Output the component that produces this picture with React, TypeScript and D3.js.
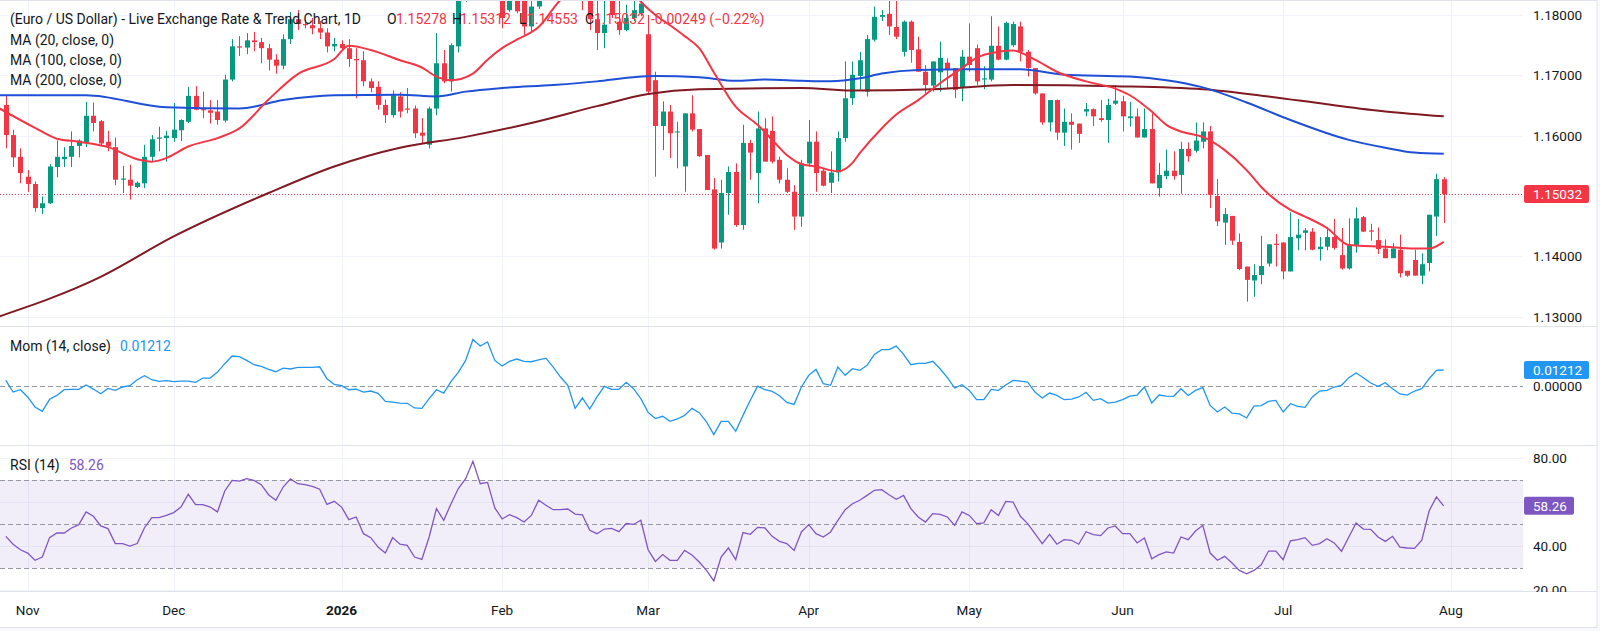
import React from 'react';
import * as d3 from 'd3';

// EUR/USD daily candles.
// first candle Wed 29 Oct 2025, last candle Fri 31 Jul 2026 (weekdays only)
const openP = [
  1.1651, 1.1601, 1.1565, 1.1532, 1.1520, 1.1480, 1.1488, 1.1548, 1.1561, 1.1565,
  1.1583, 1.1588, 1.1633, 1.1624, 1.1590, 1.1581, 1.1527, 1.1527, 1.1515, 1.1521,
  1.1565, 1.1595, 1.1596, 1.1596, 1.1609, 1.1623, 1.1666, 1.1644, 1.1642, 1.1640,
  1.1625, 1.1693, 1.1748, 1.1746, 1.1758, 1.1755, 1.1745, 1.1726, 1.1716, 1.1760,
  1.1793, 1.1785, 1.1783, 1.1778, 1.1771, 1.1748, 1.1752, 1.1745, 1.1727, 1.1725,
  1.1690, 1.1681, 1.1651, 1.1634, 1.1665, 1.1645, 1.1645, 1.1605, 1.1585, 1.1645,
  1.1720, 1.1690, 1.1748, 1.1830, 1.1882, 1.2036, 1.1957, 1.1971, 1.1862, 1.1808,
  1.1835, 1.1830, 1.1781, 1.1814, 1.1865, 1.1903, 1.1894, 1.1897, 1.1885, 1.1861,
  1.1850, 1.1793, 1.1770, 1.1830, 1.1789, 1.1775, 1.1795, 1.1803, 1.1768, 1.1692,
  1.1616, 1.1640, 1.1606, 1.1549, 1.1637, 1.1611, 1.1568, 1.1511, 1.1423, 1.1505,
  1.1540, 1.1452, 1.1588, 1.1538, 1.1612, 1.1608, 1.1560, 1.1527, 1.1507, 1.1466,
  1.1554, 1.1590, 1.1542, 1.1522, 1.1539, 1.1596, 1.1662, 1.1699, 1.1673, 1.1759,
  1.1797, 1.1802, 1.1780, 1.1739, 1.1789, 1.1743, 1.1706, 1.1683, 1.1705, 1.1721,
  1.1712, 1.1679, 1.1731, 1.1745, 1.1693, 1.1693, 1.1749, 1.1726, 1.1750, 1.1781,
  1.1739, 1.1712, 1.1670, 1.1622, 1.1659, 1.1605, 1.1623, 1.1620, 1.1640, 1.1644,
  1.1629, 1.1626, 1.1653, 1.1657, 1.1629, 1.1632, 1.1597, 1.1611, 1.1513, 1.1533,
  1.1542, 1.1535, 1.1578, 1.1575, 1.1590, 1.1607, 1.1500, 1.1456, 1.1467, 1.1424,
  1.1383, 1.1360, 1.1369, 1.1388, 1.1421, 1.1423, 1.1375, 1.1430, 1.1439, 1.1441,
  1.1412, 1.1416, 1.1432, 1.1402, 1.1380, 1.1419, 1.1465, 1.1443, 1.1427, 1.1413,
  1.1397, 1.1411, 1.1376, 1.1394, 1.1368, 1.1389, 1.1466, 1.15278,
];
const highP = [
  1.1668, 1.1610, 1.1579, 1.1543, 1.1524, 1.1499, 1.1553, 1.1592, 1.1581, 1.1607,
  1.1594, 1.1656, 1.1655, 1.1626, 1.1608, 1.1597, 1.1550, 1.1552, 1.1524, 1.1585,
  1.1601, 1.1615, 1.1608, 1.1654, 1.1627, 1.1681, 1.1682, 1.1673, 1.1659, 1.1659,
  1.1701, 1.1760, 1.1765, 1.1770, 1.1772, 1.1762, 1.1752, 1.1735, 1.1768, 1.1805,
  1.1808, 1.1792, 1.1795, 1.1790, 1.1778, 1.1762, 1.1758, 1.1760, 1.1745, 1.1740,
  1.1695, 1.1690, 1.1660, 1.1675, 1.1672, 1.1679, 1.1650, 1.1629, 1.1648, 1.1770,
  1.1742, 1.1753, 1.1850, 1.1895, 1.2080, 1.2045, 1.1990, 1.1975, 1.1870, 1.1845,
  1.1850, 1.1845, 1.1830, 1.1880, 1.1915, 1.1925, 1.1920, 1.1912, 1.1898, 1.1880,
  1.1858, 1.1825, 1.1825, 1.1845, 1.1825, 1.1817, 1.1825, 1.1830, 1.1800, 1.1706,
  1.1657, 1.1651, 1.1623, 1.1637, 1.1667, 1.1611, 1.1568, 1.1530, 1.1527, 1.1549,
  1.1554, 1.1618, 1.1593, 1.1640, 1.1629, 1.1632, 1.1565, 1.1546, 1.1518, 1.1560,
  1.1626, 1.1607, 1.1545, 1.1574, 1.1607, 1.1723, 1.1723, 1.1739, 1.1767, 1.1814,
  1.1808, 1.1825, 1.1825, 1.1791, 1.1791, 1.1764, 1.1717, 1.1723, 1.1756, 1.1728,
  1.1712, 1.1742, 1.1786, 1.1751, 1.1715, 1.1798, 1.1781, 1.1789, 1.1789, 1.1789,
  1.1742, 1.1712, 1.1670, 1.1659, 1.1660, 1.1645, 1.1637, 1.1620, 1.1654, 1.1645,
  1.1659, 1.1661, 1.1684, 1.1666, 1.1656, 1.1645, 1.1645, 1.1637, 1.1555, 1.1577,
  1.1574, 1.1590, 1.1589, 1.1622, 1.1622, 1.1616, 1.1528, 1.1480, 1.1467, 1.1438,
  1.1383, 1.1387, 1.1434, 1.1420, 1.1437, 1.1423, 1.1473, 1.1462, 1.1447, 1.1447,
  1.1432, 1.1449, 1.1462, 1.1447, 1.1463, 1.1481, 1.1467, 1.1454, 1.1448, 1.1428,
  1.1422, 1.1436, 1.1376, 1.1411, 1.1405, 1.1469, 1.1537, 1.15312,
];
const lowP = [
  1.1579, 1.1548, 1.1521, 1.1507, 1.1474, 1.1470, 1.1487, 1.1531, 1.1548, 1.1548,
  1.1564, 1.1581, 1.1607, 1.1583, 1.1574, 1.1518, 1.1505, 1.1494, 1.1513, 1.1513,
  1.1557, 1.1574, 1.1557, 1.1590, 1.1591, 1.1621, 1.1642, 1.1629, 1.1620, 1.1618,
  1.1622, 1.1690, 1.1732, 1.1735, 1.1740, 1.1720, 1.1708, 1.1703, 1.1710, 1.1752,
  1.1775, 1.1778, 1.1768, 1.1760, 1.1738, 1.1740, 1.1740, 1.1714, 1.1662, 1.1682,
  1.1672, 1.1643, 1.1621, 1.1630, 1.1630, 1.1637, 1.1596, 1.1587, 1.1579, 1.1634,
  1.1687, 1.1673, 1.1738, 1.1822, 1.1875, 1.1940, 1.1920, 1.1845, 1.1778, 1.1805,
  1.1803, 1.1767, 1.1770, 1.1810, 1.1850, 1.1870, 1.1872, 1.1860, 1.1845, 1.1808,
  1.1775, 1.1742, 1.1745, 1.1795, 1.1767, 1.1773, 1.1790, 1.1798, 1.1670, 1.1532,
  1.1576, 1.1563, 1.1546, 1.1507, 1.1607, 1.1565, 1.1510, 1.1411, 1.1413, 1.1469,
  1.1449, 1.1444, 1.1527, 1.1488, 1.1557, 1.1554, 1.1521, 1.1505, 1.1444, 1.1449,
  1.1549, 1.1507, 1.1516, 1.1505, 1.1524, 1.1590, 1.1651, 1.1676, 1.1665, 1.1756,
  1.1790, 1.1767, 1.1760, 1.1731, 1.1721, 1.1706, 1.1670, 1.1673, 1.1673, 1.1679,
  1.1662, 1.1657, 1.1706, 1.1684, 1.1677, 1.1690, 1.1725, 1.1725, 1.1747, 1.1723,
  1.1698, 1.1668, 1.1618, 1.1607, 1.1593, 1.1583, 1.1577, 1.1588, 1.1632, 1.1616,
  1.1623, 1.1588, 1.1651, 1.1607, 1.1615, 1.1597, 1.1597, 1.1521, 1.1499, 1.1528,
  1.1527, 1.1504, 1.1557, 1.1572, 1.1579, 1.1480, 1.1450, 1.1419, 1.1419, 1.1377,
  1.1325, 1.1333, 1.1354, 1.1383, 1.1383, 1.1362, 1.1375, 1.1410, 1.1410, 1.1410,
  1.1393, 1.1410, 1.1411, 1.1378, 1.1378, 1.1406, 1.1440, 1.1426, 1.1404, 1.1397,
  1.1397, 1.1365, 1.1366, 1.1368, 1.1354, 1.1375, 1.1434, 1.14553,
];
const closeP = [
  1.1601, 1.1564, 1.1538, 1.1520, 1.1480, 1.1488, 1.1549, 1.1565, 1.1565, 1.1583,
  1.1592, 1.1633, 1.1621, 1.1587, 1.1582, 1.1527, 1.1529, 1.1517, 1.1522, 1.1565,
  1.1594, 1.1597, 1.1600, 1.1610, 1.1626, 1.1666, 1.1643, 1.1642, 1.1638, 1.1626,
  1.1693, 1.1748, 1.1746, 1.1758, 1.1755, 1.1745, 1.1726, 1.1716, 1.1760, 1.1793,
  1.1785, 1.1783, 1.1778, 1.1771, 1.1748, 1.1752, 1.1745, 1.1727, 1.1725, 1.1690,
  1.1679, 1.1651, 1.1634, 1.1667, 1.1640, 1.1643, 1.1604, 1.1600, 1.1645, 1.1720,
  1.1690, 1.1750, 1.1830, 1.1882, 1.2036, 1.1957, 1.1971, 1.1862, 1.1795, 1.1830,
  1.1806, 1.1781, 1.1814, 1.1865, 1.1903, 1.1894, 1.1897, 1.1885, 1.1861, 1.1850,
  1.1793, 1.1770, 1.1784, 1.1800, 1.1775, 1.1795, 1.1808, 1.1819, 1.1673, 1.1616,
  1.1640, 1.1604, 1.1607, 1.1637, 1.1610, 1.1566, 1.1510, 1.1413, 1.1505, 1.1540,
  1.1452, 1.1588, 1.1572, 1.1612, 1.1557, 1.1557, 1.1527, 1.1507, 1.1466, 1.1554,
  1.1590, 1.1538, 1.1517, 1.1539, 1.1596, 1.1662, 1.1701, 1.1725, 1.1760, 1.1797,
  1.1800, 1.1781, 1.1764, 1.1789, 1.1742, 1.1706, 1.1684, 1.1723, 1.1729, 1.1709,
  1.1676, 1.1731, 1.1717, 1.1690, 1.1695, 1.1749, 1.1726, 1.1787, 1.1785, 1.1739,
  1.1712, 1.1670, 1.1622, 1.1659, 1.1605, 1.1623, 1.1618, 1.1603, 1.1644, 1.1632,
  1.1626, 1.1651, 1.1658, 1.1632, 1.1632, 1.1597, 1.1611, 1.1521, 1.1535, 1.1542,
  1.1533, 1.1578, 1.1566, 1.1592, 1.1607, 1.1502, 1.1458, 1.1470, 1.1426, 1.1379,
  1.1361, 1.1369, 1.1384, 1.1420, 1.1419, 1.1375, 1.1432, 1.1436, 1.1443, 1.1411,
  1.1416, 1.1432, 1.1414, 1.1380, 1.1419, 1.1463, 1.1441, 1.1441, 1.1412, 1.1397,
  1.1413, 1.1372, 1.1368, 1.1368, 1.1387, 1.1469, 1.1528, 1.15032,
];

// moving averages, sampled along the drawn curves (day index, value)
const ma20Day = [
  -1, 4, 7, 10, 14, 18, 20, 22, 25, 29, 32, 36, 40, 45, 47, 50, 54, 57, 59, 61,
  64, 66, 68, 70, 73, 76, 79, 82, 85, 87, 89, 91, 93, 95, 97, 100, 103, 105, 107, 109,
  111, 114, 116, 117, 120, 122, 125, 128, 131, 133, 136, 138, 141, 144, 148, 152, 154, 157, 159, 161,
  164, 167, 170, 172, 176, 178, 181, 184, 189, 193, 195, 197,
];
const ma20 = [
  1.1646, 1.1613, 1.1595, 1.1590, 1.1581, 1.1561, 1.1557, 1.1563, 1.1582, 1.1596,
  1.1612, 1.1660, 1.1702, 1.1727, 1.1749, 1.1742, 1.1725, 1.1713, 1.1698, 1.1692,
  1.1703, 1.1726, 1.1745, 1.1759, 1.1780, 1.1825, 1.1850, 1.1862, 1.1850, 1.1822,
  1.1800, 1.1783, 1.1765, 1.1745, 1.1705, 1.1648, 1.1618, 1.1593, 1.1568, 1.1553,
  1.1549, 1.1541, 1.1555, 1.1571, 1.1612, 1.1635, 1.1659, 1.1687, 1.1712, 1.1729,
  1.1739, 1.1741, 1.1726, 1.1706, 1.1690, 1.1678, 1.1667, 1.1640, 1.1618, 1.1607,
  1.1598, 1.1576, 1.1543, 1.1515, 1.1477, 1.1466, 1.1447, 1.1419, 1.1416, 1.1413,
  1.1413, 1.1424,
];
const ma100Day = [
  -1, 11, 22, 32, 38, 45, 54, 59, 63, 68, 75, 81, 86, 89, 95, 100, 104,
  109, 113, 117, 120, 125, 132, 139, 145, 154, 159, 164, 170, 176, 184, 189, 193, 197,
];
const ma100 = [
  1.1667, 1.1667, 1.1647, 1.1645, 1.1659, 1.1667, 1.1668, 1.1665, 1.1673, 1.1679, 1.1684, 1.1690, 1.1697, 1.1699, 1.1697, 1.1691, 1.1693,
  1.1691, 1.1690, 1.1695, 1.1703, 1.1709, 1.1710, 1.1710, 1.1701, 1.1698, 1.1692, 1.1680, 1.1655, 1.1626, 1.1593, 1.1580, 1.1572, 1.1570,
];
const ma200Day = [-1, 13, 23, 36, 45, 54, 63, 72, 81, 88, 95, 109, 116, 127, 138, 152, 164, 173, 181, 189, 197];
const ma200 = [
  1.1300, 1.1366, 1.1433, 1.1505, 1.1549, 1.1580, 1.1598, 1.1621, 1.1649, 1.1669, 1.1677,
  1.1679, 1.1675, 1.1677, 1.1684, 1.1682, 1.1677, 1.1665, 1.1652, 1.1640, 1.1632,
];

// Momentum (14, close), one value per candle
const mom = [
  0.0041, -0.0049, -0.0031, -0.0087, -0.0164, -0.0198, -0.0105, -0.0075, -0.0031, -0.0028,
  -0.0028, 0.0005, -0.0026, -0.0062, -0.0021, -0.0036, -0.0010, 0.0000, 0.0046, 0.0077,
  0.0046, 0.0033, 0.0039, 0.0031, 0.0036, 0.0036, 0.0026, 0.0059, 0.0059, 0.0105,
  0.0170, 0.0229, 0.0224, 0.0195, 0.0162, 0.0149, 0.0126, 0.0108, 0.0136, 0.0129,
  0.0141, 0.0141, 0.0141, 0.0146, 0.0054, 0.0010, 0.0000, -0.0031, -0.0026, -0.0049,
  -0.0041, -0.0059, -0.0121, -0.0126, -0.0134, -0.0136, -0.0172, -0.0175, -0.0100, -0.0031,
  -0.0057, 0.0033, 0.0103, 0.0195, 0.0357, 0.0306, 0.0337, 0.0195, 0.0152, 0.0188,
  0.0206, 0.0188, 0.0185, 0.0200, 0.0213, 0.0144, 0.0067, 0.0003, -0.0175, -0.0095,
  -0.0180, -0.0087, -0.0005, -0.0028, -0.0028, 0.0026, -0.0023, -0.0100, -0.0206, -0.0254,
  -0.0236, -0.0275, -0.0257, -0.0229, -0.0175, -0.0208, -0.0280, -0.0378, -0.0275, -0.0275,
  -0.0352, -0.0229, -0.0113, -0.0003, -0.0031, -0.0044, -0.0077, -0.0129, -0.0144, -0.0010,
  0.0080, 0.0126, 0.0015, 0.0003, 0.0144, 0.0080, 0.0131, 0.0118, 0.0157, 0.0242,
  0.0278, 0.0278, 0.0306, 0.0242, 0.0162, 0.0172, 0.0172, 0.0188, 0.0131, 0.0062,
  -0.0018, 0.0008, -0.0036, -0.0108, -0.0108, -0.0028, -0.0036, 0.0005, 0.0041, 0.0036,
  0.0028, -0.0049, -0.0095, -0.0057, -0.0075, -0.0108, -0.0103, -0.0087, -0.0051, -0.0113,
  -0.0100, -0.0134, -0.0126, -0.0108, -0.0080, -0.0072, -0.0010, -0.0134, -0.0072, -0.0080,
  -0.0082, -0.0023, -0.0075, -0.0036, -0.0015, -0.0152, -0.0203, -0.0164, -0.0211, -0.0218,
  -0.0249, -0.0157, -0.0154, -0.0121, -0.0113, -0.0203, -0.0139, -0.0159, -0.0167, -0.0087,
  -0.0041, -0.0036, -0.0010, 0.0003, 0.0062, 0.0098, 0.0062, 0.0021, -0.0005, 0.0023,
  -0.0023, -0.0064, -0.0072, -0.0041, -0.0023, 0.0054, 0.0118, 0.01212,
];

// RSI (14), one value per candle
const rsi = [
  44.4, 40.8, 38.3, 36.8, 33.5, 35.0, 43.8, 45.9, 45.9, 48.2,
  49.7, 55.5, 53.5, 49.1, 47.9, 41.1, 41.1, 40.0, 41.1, 48.3,
  52.9, 52.9, 53.9, 55.2, 57.7, 63.5, 58.8, 58.8, 57.7, 55.5,
  65.0, 69.8, 69.5, 70.6, 69.8, 67.9, 63.3, 60.8, 66.8, 70.5,
  68.3, 67.9, 67.1, 65.8, 58.9, 60.3, 57.7, 52.0, 53.2, 45.6,
  43.8, 39.5, 36.8, 43.8, 40.8, 40.3, 35.0, 33.9, 44.1, 57.0,
  51.7, 59.2, 66.1, 70.6, 78.5, 68.3, 68.9, 57.3, 52.3, 54.2,
  52.9, 50.9, 53.9, 60.8, 58.5, 56.5, 56.5, 56.8, 54.5, 54.2,
  47.1, 45.6, 47.7, 48.0, 46.5, 50.2, 49.8, 51.7, 38.3, 33.0,
  36.1, 33.5, 33.5, 38.0, 35.9, 32.7, 28.9, 24.1, 35.0, 39.1,
  33.8, 46.1, 45.3, 48.5, 48.2, 44.4, 42.1, 41.1, 38.0, 46.4,
  49.7, 45.6, 44.1, 46.4, 51.7, 56.5, 59.2, 60.8, 63.0, 65.3,
  65.6, 63.3, 61.2, 63.0, 57.0, 53.2, 50.9, 54.7, 54.4, 53.2,
  49.4, 55.5, 53.9, 50.2, 50.5, 56.5, 53.9, 60.3, 60.0, 53.5,
  50.2, 45.6, 41.1, 45.3, 40.8, 42.9, 42.6, 40.8, 46.5, 45.2,
  44.7, 48.2, 49.1, 45.6, 45.6, 41.4, 43.6, 34.2, 36.1, 37.3,
  36.8, 44.1, 42.9, 46.8, 49.4, 36.8, 33.5, 35.3, 32.3, 28.9,
  27.4, 28.9, 31.5, 37.7, 37.7, 33.8, 42.3, 42.9, 43.8, 40.3,
  41.1, 43.3, 41.4, 37.6, 44.1, 50.5, 47.7, 47.6, 44.1, 42.1,
  44.4, 39.5, 39.1, 38.9, 42.6, 55.9, 62.3, 58.26,
];

const priceTicks = [1.13, 1.14, 1.15, 1.16, 1.17, 1.18];
const momTicks = [0];
const rsiTicks = [20, 40, 60, 80];
const rsiLevels = [70, 50, 30];
const lastPrice = 1.15032;
const lastMom = 0.01212;
const lastRsi = 58.26;

const UP = '#089981';
const DOWN = '#f23645';
const GRID = '#f0f3fa';
const BORDER = '#e0e3eb';
const TEXT = '#131722';
const FONT = 'Roboto, "Noto Sans", "DejaVu Sans", sans-serif';

const PLOT_R = 1523;

export default function App() {
  // weekday slots; the extra last slot (3 Aug) only carries the "Aug" tick
  const days = d3.utcDay
    .range(new Date(Date.UTC(2025, 9, 29)), new Date(Date.UTC(2026, 7, 4)))
    .filter((d) => d.getUTCDay() % 6 !== 0);

  const x = d3.scaleLinear().domain([3, 198]).range([27.7, 1451]);
  const yP = d3.scaleLinear().domain([1.13, 1.18]).range([316.7, 15]);
  const yM = d3.scaleLinear().domain([0, 0.01212]).range([385.7, 370]);
  const yR = d3.scaleLinear().domain([30, 70]).range([568, 480]);

  const monthTicks = days.flatMap((d, j) =>
    j > 0 && d.getUTCMonth() !== days[j - 1].getUTCMonth()
      ? [{ j, year: d.getUTCMonth() === 0, label: d.getUTCMonth() === 0 ? String(d.getUTCFullYear()) : d3.utcFormat('%b')(d) }]
      : [],
  );

  const maLine = d3
    .line<[number, number]>()
    .x((d) => x(d[0]))
    .y((d) => yP(d[1]))
    .curve(d3.curveMonotoneX);
  const pairs = (ds: number[], vs: number[]) => ds.map((d, k) => [d, vs[k]] as [number, number]);

  const momLine = d3.line<number>().x((_, j) => x(j)).y((v) => yM(v));
  const rsiLine = d3.line<number>().x((_, j) => x(j)).y((v) => yR(v));

  const fmt5 = d3.format('.5f');
  const fmt2 = d3.format('.2f');

  const yLast = yP(lastPrice);
  const yMomLast = yM(lastMom);
  const yRsiLast = yR(lastRsi);

  return (
    <svg
      width={1600}
      height={631}
      style={{ position: 'absolute', left: 0, top: 0, display: 'block' }}
      fontFamily={FONT}
    >
      <defs>
        <clipPath id="cp-price">
          <rect x={0} y={1} width={PLOT_R} height={325} />
        </clipPath>
        <clipPath id="cp-mom">
          <rect x={0} y={327} width={PLOT_R} height={118} />
        </clipPath>
        <clipPath id="cp-rsi">
          <rect x={0} y={446} width={PLOT_R} height={145} />
        </clipPath>
        <clipPath id="cp-rsi-axis">
          <rect x={PLOT_R} y={446} width={80} height={146} />
        </clipPath>
      </defs>

      <rect x={0} y={0} width={1600} height={631} fill="#f8f9fb" />
      <rect x={0} y={0} width={1597} height={627} fill="#ffffff" />

      {/* vertical month grid across all panes */}
      {monthTicks.map((t) => (
        <line key={'vg' + t.j} x1={Math.round(x(t.j)) + 0.5} x2={Math.round(x(t.j)) + 0.5} y1={1} y2={591} stroke={GRID} />
      ))}

      {/* price pane grid */}
      {priceTicks.map((v) => (
        <line key={'hg' + v} x1={0} x2={PLOT_R} y1={Math.round(yP(v)) + 0.5} y2={Math.round(yP(v)) + 0.5} stroke={GRID} />
      ))}

      {/* RSI grid */}
      {rsiTicks.map((v) => (
        <line key={'rg' + v} x1={0} x2={PLOT_R} y1={Math.round(yR(v)) + 0.5} y2={Math.round(yR(v)) + 0.5} stroke={GRID} />
      ))}

      {/* price pane */}
      <g clipPath="url(#cp-price)">
        <line x1={0} x2={PLOT_R} y1={Math.round(yLast) + 0.5} y2={Math.round(yLast) + 0.5} stroke={DOWN} strokeDasharray="1 2" />
        {closeP.map((c, j) => {
          const o = openP[j];
          const col = c >= o ? UP : DOWN;
          const cx = Math.round(x(j));
          const top = yP(Math.max(o, c));
          const bot = yP(Math.min(o, c));
          return (
            <g key={j}>
              <line x1={cx + 0.5} x2={cx + 0.5} y1={yP(highP[j])} y2={yP(lowP[j])} stroke={col} strokeWidth={1} />
              <rect x={cx - 2} y={top} width={5} height={Math.max(1, bot - top)} fill={col} />
            </g>
          );
        })}
        <path d={maLine(pairs(ma200Day, ma200)) || ''} fill="none" stroke="#801922" strokeWidth={2} />
        <path d={maLine(pairs(ma100Day, ma100)) || ''} fill="none" stroke="#1e4fd6" strokeWidth={2} />
        <path d={maLine(pairs(ma20Day, ma20)) || ''} fill="none" stroke="#f23645" strokeWidth={2} />
      </g>

      {/* momentum pane */}
      <g clipPath="url(#cp-mom)">
        {momTicks.map((v) => (
          <line key={'mz' + v} x1={0} x2={PLOT_R} y1={Math.round(yM(v)) + 0.5} y2={Math.round(yM(v)) + 0.5} stroke="#9598a1" strokeDasharray="5 3" />
        ))}
        <path d={momLine(mom) || ''} fill="none" stroke="#2196f3" strokeWidth={1.3} />
      </g>

      {/* RSI pane */}
      <g clipPath="url(#cp-rsi)">
        <rect x={0} y={yR(70)} width={PLOT_R} height={yR(30) - yR(70)} fill="rgba(126,87,194,0.1)" />
        {rsiLevels.map((v) => (
          <line key={'rl' + v} x1={0} x2={PLOT_R} y1={Math.round(yR(v)) + 0.5} y2={Math.round(yR(v)) + 0.5} stroke="#9598a1" strokeDasharray="5 3" />
        ))}
        <path d={rsiLine(rsi) || ''} fill="none" stroke="#7e57c2" strokeWidth={1.3} />
      </g>

      {/* pane separators and frame */}
      <line x1={0} x2={1597} y1={326.5} y2={326.5} stroke={BORDER} />
      <line x1={0} x2={1597} y1={445.5} y2={445.5} stroke={BORDER} />
      <line x1={0} x2={1597} y1={591.5} y2={591.5} stroke={BORDER} />
      <rect x={-1} y={0.5} width={1598} height={627} fill="none" stroke={BORDER} />

      {/* legends */}
      <g fontSize={14} dominantBaseline="central" fill={TEXT}>
        <text x={10} y={19}>(Euro / US Dollar) - Live Exchange Rate &amp; Trend Chart, 1D</text>
        <text x={387} y={19}>O</text>
        <text x={396} y={19} fill={DOWN}>{fmt5(openP[openP.length - 1])}</text>
        <text x={452} y={19}>H</text>
        <text x={460} y={19} fill={DOWN}>{fmt5(highP[highP.length - 1])}</text>
        <text x={519} y={19}>L</text>
        <text x={527} y={19} fill={DOWN}>{fmt5(lowP[lowP.length - 1])}</text>
        <text x={585} y={19}>C</text>
        <text x={594} y={19} fill={DOWN}>{fmt5(closeP[closeP.length - 1])}</text>
        <text x={651} y={19} fill={DOWN}>-0.00249 (−0.22%)</text>
        <text x={10} y={39.5}>MA (20, close, 0)</text>
        <text x={10} y={59.5}>MA (100, close, 0)</text>
        <text x={10} y={80}>MA (200, close, 0)</text>
        <text x={10} y={346}>
          Mom (14, close)<tspan dx={9} fill="#2196f3">{fmt5(lastMom)}</tspan>
        </text>
        <text x={10} y={465}>
          RSI (14)<tspan dx={9} fill="#7e57c2">{fmt2(lastRsi)}</tspan>
        </text>
      </g>

      {/* right axis labels */}
      <g fontSize={13.5} dominantBaseline="central" fill={TEXT}>
        {priceTicks
          .filter((v) => Math.abs(yP(v) - yLast) > 14)
          .map((v) => (
            <text key={'pl' + v} x={1533} y={yP(v)}>
              {fmt5(v)}
            </text>
          ))}
        {momTicks.map((v) => (
          <text key={'ml' + v} x={1533} y={yM(v)}>
            {fmt5(v)}
          </text>
        ))}
        <g clipPath="url(#cp-rsi-axis)">
          {rsiTicks
            .filter((v) => Math.abs(yR(v) - yRsiLast) > 14)
            .map((v) => (
              <text key={'rl' + v} x={1533} y={yR(v)}>
                {fmt2(v)}
              </text>
            ))}
        </g>
      </g>

      {/* last value boxes */}
      <g fontSize={13.5} dominantBaseline="central" fill="#ffffff">
        <rect x={1524} y={yLast - 9} width={65} height={18} rx={2} fill={DOWN} />
        <text x={1533} y={yLast}>{fmt5(lastPrice)}</text>
        <rect x={1524} y={yMomLast - 9} width={65} height={18} rx={2} fill="#2196f3" />
        <text x={1533} y={yMomLast}>{fmt5(lastMom)}</text>
        <rect x={1524} y={yRsiLast - 9} width={50} height={18} rx={2} fill="#7e57c2" />
        <text x={1533} y={yRsiLast}>{fmt2(lastRsi)}</text>
      </g>

      {/* time axis */}
      <g fontSize={13.5} dominantBaseline="central" textAnchor="middle" fill={TEXT}>
        {monthTicks.map((t) => (
          <text key={'tl' + t.j} x={x(t.j)} y={610} fontWeight={t.year ? 700 : 400}>
            {t.label}
          </text>
        ))}
      </g>
    </svg>
  );
}
